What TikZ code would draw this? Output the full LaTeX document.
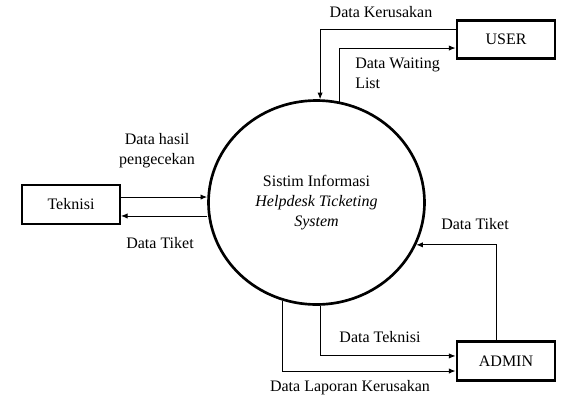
\documentclass[tikz,border=0pt]{standalone}
\usepackage{fontspec}
\setmainfont{Liberation Serif}
\usetikzlibrary{arrows.meta,shapes.geometric}

\begin{document}
\begin{tikzpicture}[x=0.75pt,y=-0.75pt,>={Latex[length=5pt,width=4pt]},
    font=\fontsize{12}{15}\selectfont,
    ent/.style={draw,line width=2.2pt,minimum width=73.5pt,minimum height=29pt,inner sep=0pt},
    proc/.style={draw,ellipse,line width=2pt,minimum width=162pt,minimum height=153pt,align=center},
    lbl/.style={inner sep=0pt,align=center},
    flow/.style={->,line width=0.7pt}]
    \useasboundingbox (0,0) rectangle (573,404);
    \node[proc] (sis) at (316.5,202.5) {Sistim Informasi\\\textit{Helpdesk Ticketing}\\\textit{System}};
    \node[ent] (user) at (506,39.5) {USER};
    \node[ent,line width=1.4pt] (tek) at (71,204.5) {Teknisi};
    \node[ent] (adm) at (506,361) {ADMIN};
    % arus data
    \draw[flow] ([yshift=7.9pt]user.west) -| (sis.88);
    \draw[flow] (sis.77) |- ([yshift=-6.4pt]user.west);
    \draw[flow] ([yshift=5.6pt]tek.east) -- ([yshift=5.6pt]tek.east -| sis.west);
    \draw[flow] ([yshift=-8.6pt]tek.east -| sis.west) -- ([yshift=-8.6pt]tek.east);
    \draw[flow] ([xshift=-7.5pt]adm.north) |- (sis.-23);
    \draw[flow] (sis.-88) |- ([yshift=3.8pt]adm.west);
    \draw[flow] (sis.-109) |- ([yshift=-7.5pt]adm.west);
    % label
    \node[lbl] (l1) at (381,12) {Data Kerusakan};
    \node[lbl,anchor=west,align=left] (l2) at (355,73) {Data Waiting\\List};
    \node[lbl] (l3) at (157,151) {Data hasil\\pengecekan};
    \node[lbl] (l4) at (160,243) {Data Tiket};
    \node[lbl] (l5) at (475,224) {Data Tiket};
    \node[lbl] (l6) at (380,337) {Data Teknisi};
    \node[lbl] (l7) at (350,388) {Data Laporan Kerusakan};
  \end{tikzpicture}
\end{document}
